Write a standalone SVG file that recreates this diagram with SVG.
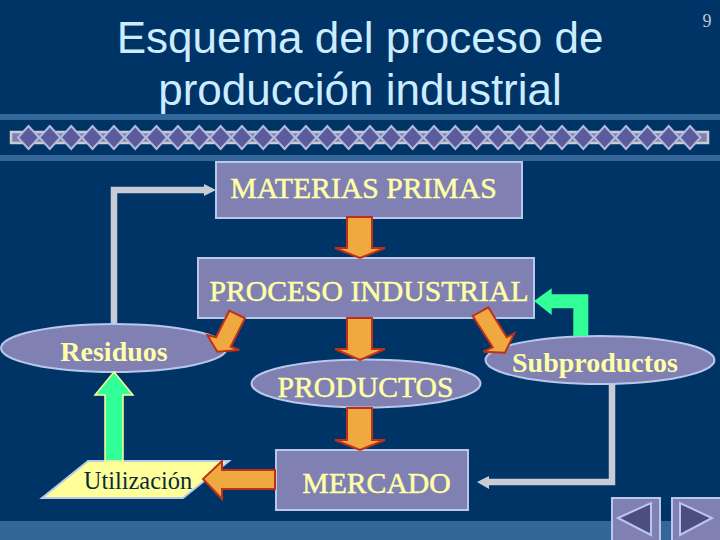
<svg xmlns="http://www.w3.org/2000/svg" width="720" height="540" viewBox="0 0 720 540">
<style>
.band{fill:#336699}
.box{fill:#8080b3;stroke:#b8c8e8;stroke-width:2}
.t{font-family:"Liberation Serif",serif;font-size:29.7px;fill:#ffffa8;stroke:#ffffa8;stroke-width:.5;text-anchor:middle}
.tb{font-family:"Liberation Serif",serif;font-size:28px;font-weight:bold;fill:#ffffa8;text-anchor:middle}
.title{font-family:"Liberation Sans",sans-serif;font-size:44px;fill:#ccecff;text-anchor:middle}
.org{fill:#f0a840;stroke:#c03018;stroke-width:2;stroke-linejoin:miter}
.grn{fill:#33ff99}
.gl{fill:none;stroke:#c8ccd4;stroke-width:6.5}
.gh{fill:#c8ccd4}
.d{fill:#5c5c9c;stroke:#b0bcdc;stroke-width:2}
.nav{fill:#8080b3;stroke:#b8c8e8;stroke-width:2}
.tri{fill:#4d4d80;stroke:#b8c8e8;stroke-width:2}
</style>
<defs><path id="dm" d="M0-11.5 10.5 0 0 11.5-10.5 0Z" class="d"/></defs>
<rect width="720" height="540" fill="#003366"/>
<rect class="band" x="0" y="114" width="720" height="6"/>
<rect class="band" x="0" y="155" width="720" height="6"/>
<rect class="band" x="0" y="521" width="720" height="19"/>
<text class="title" x="360" y="53">Esquema del proceso de</text>
<text class="title" x="360" y="105">producción industrial</text>
<text x="707" y="27" font-family="Liberation Serif,serif" font-size="18" fill="#b8c8d8" text-anchor="middle">9</text>
<g id="chain">
<rect x="11" y="132" width="697" height="11" fill="#8080b3" stroke="#c8ccd4" stroke-width="2.5"/>
<use href="#dm" x="28.5" y="137.5"/><use href="#dm" x="49.8" y="137.5"/><use href="#dm" x="71.2" y="137.5"/><use href="#dm" x="92.5" y="137.5"/><use href="#dm" x="113.9" y="137.5"/><use href="#dm" x="135.2" y="137.5"/><use href="#dm" x="156.5" y="137.5"/><use href="#dm" x="177.9" y="137.5"/><use href="#dm" x="199.2" y="137.5"/><use href="#dm" x="220.6" y="137.5"/><use href="#dm" x="241.9" y="137.5"/><use href="#dm" x="263.2" y="137.5"/><use href="#dm" x="284.6" y="137.5"/><use href="#dm" x="305.9" y="137.5"/><use href="#dm" x="327.3" y="137.5"/><use href="#dm" x="348.6" y="137.5"/><use href="#dm" x="369.9" y="137.5"/><use href="#dm" x="391.3" y="137.5"/><use href="#dm" x="412.6" y="137.5"/><use href="#dm" x="434" y="137.5"/><use href="#dm" x="455.3" y="137.5"/><use href="#dm" x="476.6" y="137.5"/><use href="#dm" x="498" y="137.5"/><use href="#dm" x="519.3" y="137.5"/><use href="#dm" x="540.7" y="137.5"/><use href="#dm" x="562" y="137.5"/><use href="#dm" x="583.3" y="137.5"/><use href="#dm" x="604.7" y="137.5"/><use href="#dm" x="626" y="137.5"/><use href="#dm" x="647.4" y="137.5"/><use href="#dm" x="668.7" y="137.5"/><use href="#dm" x="690" y="137.5"/>
</g>
<g id="n-materias"><rect class="box" x="216" y="162" width="306" height="56"/><text class="t" x="363.5" y="198">MATERIAS PRIMAS</text></g>
<g id="n-proceso"><rect class="box" x="198" y="258" width="336" height="60"/><text class="t" x="369" y="301">PROCESO INDUSTRIAL</text></g>
<g id="n-residuos"><ellipse class="box" cx="114" cy="348" rx="113" ry="24"/><text class="tb" x="114" y="361">Residuos</text></g>
<g id="n-productos"><ellipse class="box" cx="366" cy="383.5" rx="114.5" ry="24"/><text class="t" x="365.5" y="397">PRODUCTOS</text></g>
<g id="n-subproductos"><ellipse class="box" cx="600" cy="360" rx="114.5" ry="24"/><text class="tb" x="595" y="372">Subproductos</text></g>
<g id="n-utilizacion"><path d="M88 461H229L183 498H42Z" fill="#ffff99" stroke="#b8c8e8" stroke-width="2"/><text x="138" y="489" font-family="Liberation Serif,serif" font-size="24.4" fill="#0a2a3a" text-anchor="middle">Utilización</text></g>
<g id="n-mercado"><rect class="box" x="276" y="450" width="192" height="60"/><text class="t" x="376.5" y="493">MERCADO</text></g>
<g id="connectors">
<path class="gl" d="M114 323V190H205"/><path class="gh" d="M216 190 204 184V196Z"/>
<path class="gl" d="M612 384V482H488"/><path class="gh" d="M477 482 489 476V489Z"/>
<path class="org" d="M347 217H372V248H385L360 258 335 248H347Z"/>
<path class="org" d="M347 318H372V349H385L360 360 335 349H347Z"/>
<path class="org" d="M347 408H372V440H385L360 450 335 440H347Z"/>
<path class="org" d="M229.3 310.7 245 318.3 230.7 346.7 239.3 350 217.3 351.7 207.3 335 216 337.3Z"/>
<path class="org" d="M472.7 316 488.3 307.3 506.7 337.3 514.3 333.3 505 352.7 483.3 351.7 492.7 347.3Z"/>
<path class="org" d="M275 470H222V461L203 479 222 499V489H275Z"/>
<path class="grn" stroke="#ffff99" stroke-width="1.5" d="M105 461V395H95L114 372 133 395H123V461Z"/>
<path class="grn" d="M534 301 551.7 288.3V294.3H588.3V336H573.3V308.3H551.7V315Z"/>
</g>
<g id="nav-prev"><rect class="nav" x="612" y="498" width="48" height="44"/><path class="tri" d="M618 518 651 503V535Z"/></g>
<g id="nav-next"><rect class="nav" x="672" y="498" width="49" height="44"/><path class="tri" d="M680 503V535L712 518Z"/></g>
</svg>
